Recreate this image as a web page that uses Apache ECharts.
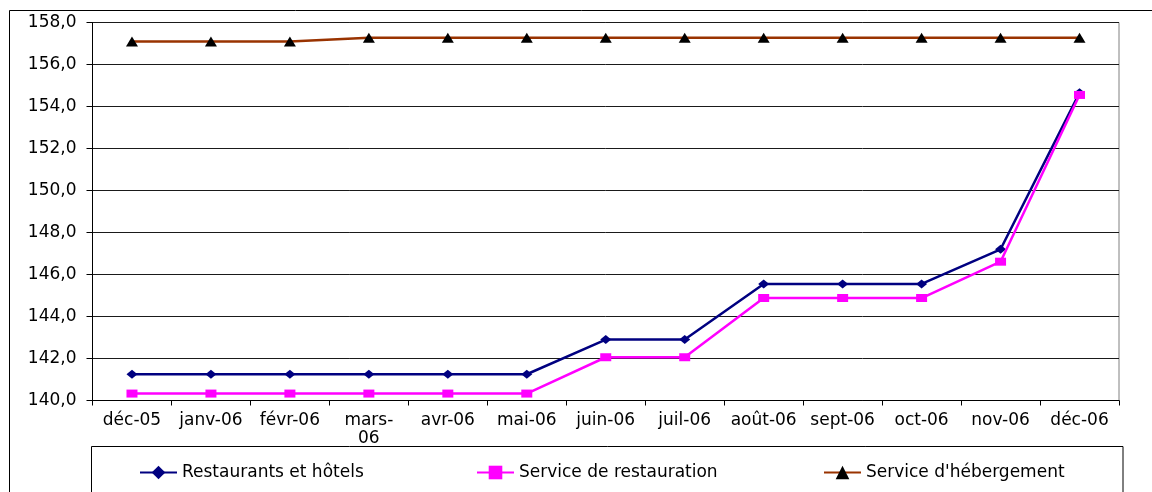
<!DOCTYPE html>
<html>
<head>
<meta charset="utf-8">
<script src="https://cdn.jsdelivr.net/npm/echarts@6/dist/echarts.min.js"></script>
<style>
html,body{margin:0;padding:0;background:#fff;}
#chart{width:1152px;height:492px;}
</style>
</head>
<body>
<div id="chart"></div>
<script>
// ---- data ----
var categories = ['déc-05','janv-06','févr-06','mars-06','avr-06','mai-06','juin-06','juil-06','août-06','sept-06','oct-06','nov-06','déc-06'];
var seriesNames = ['Restaurants et hôtels','Service de restauration',"Service d'hébergement"];
var restaurantsHotels = [141.25,141.25,141.25,141.25,141.25,141.25,142.9,142.9,145.55,145.55,145.55,147.2,154.65];
var serviceRestauration = [140.33,140.33,140.33,140.33,140.33,140.33,142.06,142.06,144.88,144.88,144.88,146.61,154.55];
var serviceHebergement = [157.1,157.1,157.1,157.27,157.27,157.27,157.27,157.27,157.27,157.27,157.27,157.27,157.27];
var yTicks = {min:140, max:158, interval:2};

var FONT = 'DejaVu Sans';
var FS = 17;
var measureCtx = document.createElement('canvas').getContext('2d');
measureCtx.font = FS + 'px "' + FONT + '"';
function wrapLabel(v){
  if (measureCtx.measureText(v).width > 68 && v.indexOf('-') > 0) {
    return v.replace('-', '-\n');
  }
  return v;
}

var chart = echarts.init(document.getElementById('chart'), null, {renderer:'canvas'});
function legendFor(name, left){
  return {
    data:[name], left:left, top:464, padding:0,
    itemWidth:37, itemHeight:17, itemGap:0,
    selectedMode:false,
    textStyle:{fontFamily:FONT, fontSize:FS, color:'#000', lineHeight:17}
  };
}
chart.setOption({
  backgroundColor:'#fff',
  animation:false,
  textStyle:{fontFamily:FONT},
  graphic:[
    {type:'rect', silent:true, z:-10, shape:{x:9.5,y:10.5,width:1300,height:600}, style:{fill:'none', stroke:'#000', lineWidth:1}},
    {type:'rect', silent:true, z:-10, shape:{x:91.5,y:446.5,width:1031.5,height:100}, style:{fill:'none', stroke:'#000', lineWidth:1}}
  ],
  legend:[
    legendFor(seriesNames[0], 139),
    legendFor(seriesNames[1], 476),
    legendFor(seriesNames[2], 823)
  ],
  grid:{left:92.5, right:33, top:22.5, bottom:91.5, show:true, borderColor:'#808080', borderWidth:1, containLabel:false},
  xAxis:{
    type:'category', data:categories, boundaryGap:true,
    axisLine:{show:true, lineStyle:{color:'#000', width:1}},
    axisTick:{show:true, alignWithLabel:false, length:5, lineStyle:{color:'#000'}},
    axisLabel:{color:'#000', fontFamily:FONT, fontSize:FS, lineHeight:18, margin:11, interval:0, formatter:wrapLabel},
    splitLine:{show:false}
  },
  yAxis:{
    type:'value', min:yTicks.min, max:yTicks.max, interval:yTicks.interval,
    axisLine:{show:true, lineStyle:{color:'#000', width:1}},
    axisTick:{show:true, inside:false, length:6, lineStyle:{color:'#000'}},
    axisLabel:{color:'#000', fontFamily:FONT, fontSize:FS, margin:16, formatter:function(v){return v.toFixed(1).replace('.', ',');}},
    splitLine:{show:true, lineStyle:{color:'#1a1a1a', width:1}}
  },
  series:[
    {name:seriesNames[0], type:'line', data:restaurantsHotels, symbol:'diamond', symbolSize:[11,9],
     lineStyle:{color:'#000080', width:2.5}, itemStyle:{color:'#000080', borderWidth:0}, z:3},
    {name:seriesNames[1], type:'line', data:serviceRestauration, symbol:'rect', symbolSize:[11,8],
     lineStyle:{color:'#ff00ff', width:2.5}, itemStyle:{color:'#ff00ff', borderWidth:0}, z:4},
    {name:seriesNames[2], type:'line', data:serviceHebergement, symbol:'triangle', symbolSize:[12,10],
     lineStyle:{color:'#993300', width:2.5}, itemStyle:{color:'#000', borderWidth:0}, z:5}
  ]
});
</script>
</body>
</html>
